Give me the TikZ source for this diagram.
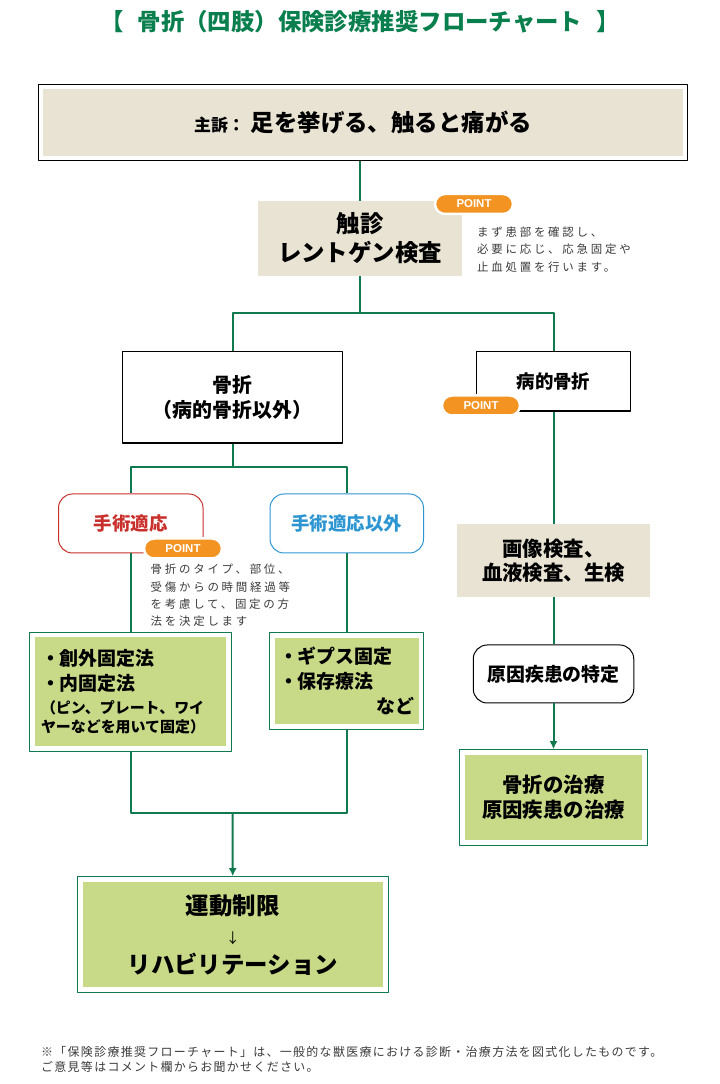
\documentclass[tikz,border=0pt]{standalone}
\usepackage{fontspec}
\setmainfont{Noto Sans CJK JP}
\newfontfamily\notefont{Noto Sans CJK JP}[LetterSpace=24]
\newfontfamily\footfont{Noto Sans CJK JP}[LetterSpace=11]
\newfontfamily\pointfont{Liberation Sans}
\usetikzlibrary{fit,arrows.meta}
\definecolor{flowgreen}{HTML}{0E7A4E}
\definecolor{titlegreen}{HTML}{0A7F4E}
\definecolor{boxbeige}{HTML}{E8E3D3}
\definecolor{leafgreen}{HTML}{C8D987}
\definecolor{pointorange}{HTML}{F39322}
\definecolor{surgred}{HTML}{C9302C}
\definecolor{surgblue}{HTML}{2D96D2}
\definecolor{notegray}{HTML}{3A3A3A}
\begin{document}
\begin{tikzpicture}[>={Latex[length=8bp,width=8bp]},line join=bevel,
  flow/.style={draw=flowgreen,line width=2bp},
  beigebox/.style={fill=boxbeige,draw=none,align=center,inner sep=0pt},
  plainbox/.style={fill=white,draw=black,line width=1.2bp,align=center,inner sep=0pt},
  roundbox/.style={fill=white,line width=1bp,rounded corners=14bp,align=center,inner sep=0pt},
  leafbox/.style={fill=leafgreen,draw=none,inner sep=0pt},
  leafframe/.style={draw=flowgreen,line width=1.3bp,inner sep=5bp},
  pointbadge/.style={fill=pointorange,draw=white,line width=2.5bp,rounded corners=10bp,minimum width=78bp,minimum height=20bp,inner sep=0pt,text=white,font=\pointfont\bfseries\fontsize{11.5}{11.5}\selectfont},
  notetext/.style={anchor=west,align=left,inner sep=0pt,text=notegray,font=\notefont\fontsize{11.5}{17.5}\selectfont},
  ]
\useasboundingbox (0bp,0bp) rectangle (720bp,1084bp);
%%
\node (node_title) at (360bp,1062bp) [text=titlegreen,font=\bfseries\fontsize{23.5}{23.5}\selectfont] {【\hspace{14bp}骨折（四肢）保険診療推奨フローチャート\hspace{14bp}】};
%
\node (node_chief) at (363bp,961.5bp) [beigebox,minimum width=640bp,minimum height=67bp,font=\bfseries\fontsize{23.5}{23.5}\selectfont] {{\fontsize{17}{17}\selectfont 主訴：}\hspace{6bp}足を挙げる、触ると痛がる};
  \node (node_chief_frame) [draw=black,line width=1.2bp,inner sep=4bp,fit=(node_chief)] {};
  \node (node_palp) at (360bp,845.5bp) [beigebox,minimum width=204bp,minimum height=75bp,font=\bfseries\fontsize{23.5}{29}\selectfont] {触診\\レントゲン検査};
  \node (node_note_a) at (477bp,834.7bp) [notetext] {まず患部を確認し、\\必要に応じ、応急固定や\\止血処置を行います。};
%
\node (node_fract) at (232.5bp,686.75bp) [plainbox,minimum width=220bp,minimum height=91.5bp,font=\bfseries\fontsize{20}{25}\selectfont] {骨折\\（病的骨折以外）};
  \node (node_patho) at (553.5bp,702.75bp) [plainbox,minimum width=154bp,minimum height=59.5bp,font=\bfseries\fontsize{18.5}{18.5}\selectfont] {病的骨折};
%
\node (node_surg) at (130.75bp,560.5bp) [roundbox,draw=surgred,text=surgred,minimum width=144.5bp,minimum height=59bp,font=\bfseries\fontsize{18.5}{18.5}\selectfont] {手術適応};
  \node (node_nonsurg) at (346.75bp,560.5bp) [roundbox,draw=surgblue,text=surgblue,minimum width=153.5bp,minimum height=59bp,font=\bfseries\fontsize{18.5}{18.5}\selectfont] {手術適応以外};
  \node (node_note_b) at (150.5bp,488.6bp) [notetext] {骨折のタイプ、部位、\\受傷からの時間経過等\\を考慮して、固定の方\\法を決定します};
%
\node (node_fix) at (130.5bp,392.25bp) [leafbox,minimum width=191bp,minimum height=108.5bp,text width=179bp,align=left,font=\bfseries\fontsize{19}{19}\selectfont] {・創外固定法\\[6bp]・内固定法\\[4.5bp]\fontsize{15}{19}\selectfont（ピン、プレート、ワイ\\ヤーなどを用いて固定）};
  \node (node_fix_frame) [leafframe,fit=(node_fix)] {};
  \node (node_cast) at (346.75bp,402.75bp) [leafbox,minimum width=143.5bp,minimum height=86.5bp,text width=135.5bp,align=left,font=\bfseries\fontsize{19}{25}\selectfont] {・ギプス固定\\・保存療法\\\hspace*{\fill}など};
  \node (node_cast_frame) [leafframe,fit=(node_cast)] {};
%
\node (node_rehab) at (232.75bp,149.25bp) [leafbox,minimum width=300.5bp,minimum height=105.5bp,align=center,font=\bfseries\fontsize{23.5}{29.5}\selectfont] {運動制限\\{\mdseries\fontsize{14}{29.5}\selectfont ↓}\\リハビリテーション};
  \node (node_rehab_frame) [leafframe,fit=(node_rehab)] {};
%
\node (node_exam) at (553.5bp,523.5bp) [beigebox,minimum width=193bp,minimum height=73bp,font=\bfseries\fontsize{20.5}{24}\selectfont] {画像検査、\\血液検査、生検};
  \node (node_cause) at (553.5bp,410bp) [roundbox,draw=black,minimum width=160.5bp,minimum height=58bp,font=\bfseries\fontsize{19}{19}\selectfont] {原因疾患の特定};
  \node (node_treat) at (553.5bp,286.5bp) [leafbox,minimum width=177.5bp,minimum height=85bp,align=center,font=\bfseries\fontsize{20.5}{25}\selectfont] {骨折の治療\\原因疾患の治療};
  \node (node_treat_frame) [leafframe,fit=(node_treat)] {};
%
\node (node_foot) at (41bp,24.5bp) [anchor=west,align=left,inner sep=0pt,text=notegray,font=\footfont\fontsize{12}{15}\selectfont] {※「保険診療推奨フローチャート」は、一般的な獣医療における診断・治療方法を図式化したものです。\\ご意見等はコメント欄からお聞かせください。};
%% connectors
\coordinate (split_a) at (360bp,770.7bp);
  \coordinate (split_b) at (232.5bp,616.7bp);
  \coordinate (join_c) at (232.5bp,271.3bp);
  \draw [flow] (node_palp.north |- node_chief_frame.south) -- (node_palp.north);
  \draw [flow] (node_palp.south) -- (split_a);
  \draw [flow] (node_fract.north) |- (split_a);
  \draw [flow] (node_patho.north) |- (split_a);
  \draw [flow] (node_fract.south) -- (split_b);
  \draw [flow] (node_surg.north) |- (split_b);
  \draw [flow] (node_nonsurg.north) |- (split_b);
  \draw [flow] (node_surg.south) -- (node_surg.south |- node_fix_frame.north);
  \draw [flow] (node_nonsurg.south) -- (node_nonsurg.south |- node_cast_frame.north);
  \draw [flow] (node_fix_frame.south) |- (join_c);
  \draw [flow] (node_cast_frame.south) |- (join_c);
  \draw [flow,->] (join_c) -- (node_rehab_frame.north);
  \draw [flow] (node_patho.south) -- (node_exam.north);
  \draw [flow] (node_exam.south) -- (node_cause.north);
  \draw [flow,->] (node_cause.south) -- (node_treat_frame.north);
%% badges
\node (node_point_a) at (474bp,880bp) [pointbadge] {POINT};
  \node (node_point_b) at (481bp,678.5bp) [pointbadge] {POINT};
  \node (node_point_c) at (183bp,535.5bp) [pointbadge] {POINT};
%
\end{tikzpicture}
\end{document}
